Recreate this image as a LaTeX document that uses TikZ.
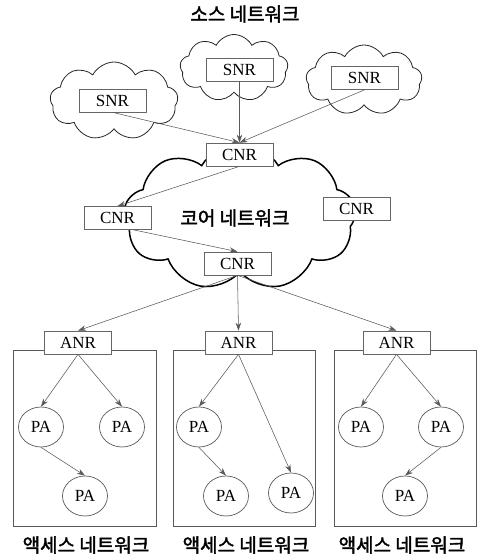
\documentclass[tikz,border=0pt]{standalone}
\usepackage{fontspec}
\setmainfont{Liberation Serif}
\newfontfamily\kr{Noto Sans CJK KR}[FakeBold=2]
\usetikzlibrary{shapes.symbols,shapes.geometric,arrows.meta}
\begin{document}
\begin{tikzpicture}[x=1pt,y=-1pt,
 box/.style={draw=black!60, line width=0.7pt, fill=white, minimum width=67pt, minimum height=23pt, inner sep=0pt, font=\fontsize{17}{17}\selectfont},
 pa/.style={ellipse, draw=black!65, line width=0.7pt, fill=white, minimum width=45pt, minimum height=40pt, inner sep=0pt, font=\fontsize{17}{17}\selectfont},
 smallcloud/.style={cloud, draw=black!85, line width=0.8pt, cloud puffs=9, cloud puff arc=125, cloud ignores aspect, inner sep=0pt},
 bigcloud/.style={cloud, draw=black, line width=1.5pt, cloud puffs=9, cloud puff arc=120, cloud ignores aspect, inner sep=0pt},
 link/.style={draw=black!65, line width=0.55pt, -{Stealth[length=8pt,width=5.5pt]}},
 area/.style={draw=black!65, line width=0.7pt},
 lbl/.style={font=\kr\fontsize{19}{19}\selectfont}]
\useasboundingbox (0,0) rectangle (478,554);
% clouds
\node[smallcloud, minimum width=128pt, minimum height=78pt] (c1) at (114,101) {};
\node[smallcloud, minimum width=108pt, minimum height=67pt] (c2) at (234,68) {};
\node[smallcloud, minimum width=116pt, minimum height=70pt] (c3) at (364,80) {};
\node[bigcloud, minimum width=232pt, minimum height=147pt] (core) at (240,217) {};
% access areas
\draw[area] (13,350) rectangle (156,526);
\draw[area] (173,350) rectangle (315,526);
\draw[area] (334,350) rectangle (476,526);
% texts
\node[lbl] (title) at (245,14) {소스 네트워크};
\node[lbl] (coretxt) at (235,218) {코어 네트워크};
\node[lbl] (accL) at (86,545) {액세스 네트워크};
\node[lbl] (accM) at (246,545) {액세스 네트워크};
\node[lbl] (accR) at (402,545) {액세스 네트워크};
% boxes
\node[box] (snr1) at (112.5,100.5) {SNR};
\node[box] (snr2) at (239.5,69.5) {SNR};
\node[box] (snr3) at (364.5,78) {SNR};
\node[box] (cnrT) at (239.5,154.5) {CNR};
\node[box] (cnrL) at (117.5,218) {CNR};
\node[box] (cnrR) at (356.5,209) {CNR};
\node[box] (cnrB) at (237.5,263.5) {CNR};
\node[box] (anrL) at (78,342.5) {ANR};
\node[box] (anrM) at (238.5,342.5) {ANR};
\node[box] (anrR) at (396.5,342.5) {ANR};
% PAs
\node[pa] (pL1) at (41,427) {PA};
\node[pa] (pL2) at (122,427) {PA};
\node[pa] (pL3) at (85,496) {PA};
\node[pa] (pM1) at (199,427) {PA};
\node[pa] (pM2) at (226,496) {PA};
\node[pa] (pM3) at (291,493) {PA};
\node[pa] (pR1) at (361,427) {PA};
\node[pa] (pR2) at (441,427) {PA};
\node[pa] (pR3) at (405,496) {PA};
% connectors
\draw[link] (snr1.south) -- (cnrT.north);
\draw[link] (snr2.south) -- (cnrT.north);
\draw[link] (snr3.south) -- (cnrT.north);
\draw[link] (cnrT.south) -- (cnrL.north);
\draw[link] ([xshift=16pt]cnrL.south) -- (cnrB.north);
\draw[link] (cnrB.south) -- (anrL.north);
\draw[link] (cnrB.south) -- (anrM.north);
\draw[link] (cnrB.south) -- (anrR.north);
\draw[link] (anrL.south) -- (pL1.north);
\draw[link] (anrL.south) -- (pL2.north);
\draw[link] (pL1.south) -- (pL3.north);
\draw[link] (anrM.south) -- (pM1.north);
\draw[link] (anrM.south) -- (pM3.north);
\draw[link] (pM1.south) -- (pM2.north);
\draw[link] (anrR.south) -- (pR1.north);
\draw[link] (anrR.south) -- (pR2.north);
\draw[link] (pR2.south) -- (pR3.north);
\end{tikzpicture}
\end{document}
